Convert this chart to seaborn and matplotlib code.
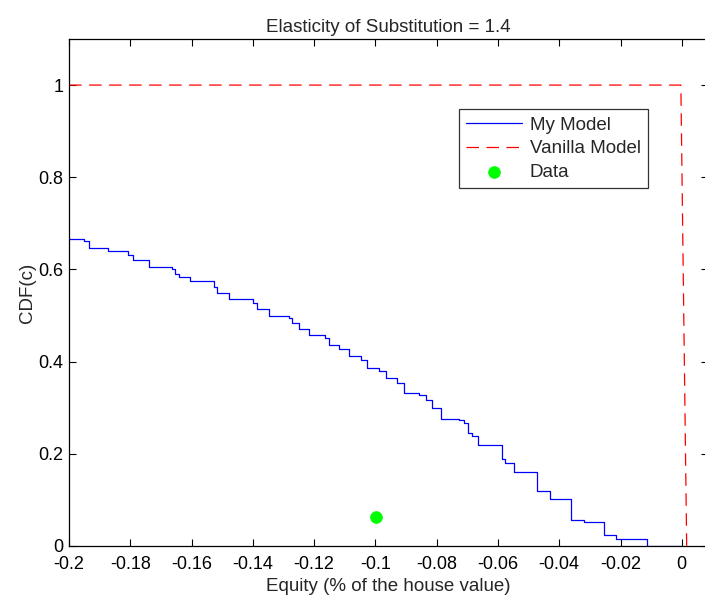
import numpy as np
import pandas as pd
import matplotlib
matplotlib.use("Agg")
import matplotlib.pyplot as plt
import seaborn as sns

# "My Model" step curve: x where each level starts, and the level
my_x = [-0.2, -0.1951, -0.1934, -0.1872, -0.1807, -0.1793, -0.1738, -0.1665,
        -0.1654, -0.1641, -0.1606, -0.1526, -0.1518, -0.1477, -0.1401, -0.1386,
        -0.1347, -0.1282, -0.1273, -0.1250, -0.1217, -0.1165, -0.1151, -0.1118,
        -0.1086, -0.1048, -0.1029, -0.0989, -0.0966, -0.0931, -0.0906, -0.0858,
        -0.0836, -0.0815, -0.0786, -0.0727, -0.0711, -0.0699, -0.0686, -0.0665,
        -0.0588, -0.0578, -0.0547, -0.0471, -0.0431, -0.0360, -0.0319, -0.0254,
        -0.0215, -0.0115, -0.0001]
my_cdf = [0.666, 0.662, 0.646, 0.640, 0.631, 0.621, 0.606, 0.601,
          0.590, 0.584, 0.574, 0.561, 0.549, 0.536, 0.527, 0.514,
          0.498, 0.495, 0.484, 0.471, 0.457, 0.452, 0.437, 0.428,
          0.412, 0.403, 0.386, 0.379, 0.364, 0.354, 0.332, 0.327,
          0.316, 0.300, 0.276, 0.273, 0.266, 0.246, 0.239, 0.220,
          0.188, 0.179, 0.161, 0.120, 0.103, 0.056, 0.051, 0.024,
          0.015, 0.0, 0.0]

# "Vanilla Model"
van_x = [-0.2, -0.0003, 0.0016, 0.0036]
van_cdf = [1.0, 1.0, 0.0, 0.0]

# Data point
data_x = [-0.0998]
data_cdf = [0.063]

sns.set_style("ticks")
plt.rcParams["font.family"] = ["Liberation Sans", "DejaVu Sans"]
plt.rcParams["xtick.direction"] = "in"
plt.rcParams["ytick.direction"] = "in"
plt.rcParams["xtick.top"] = True
plt.rcParams["ytick.right"] = True

fig = plt.figure(figsize=(7.05, 6.0), dpi=100)
ax = fig.add_axes([0.098, 0.09, 0.906, 0.845])

my_df = pd.DataFrame({"x": my_x, "cdf": my_cdf})
van_df = pd.DataFrame({"x": van_x, "cdf": van_cdf})
data_df = pd.DataFrame({"x": data_x, "cdf": data_cdf})

sns.lineplot(data=my_df, x="x", y="cdf", ax=ax, color="blue", linewidth=0.9,
             drawstyle="steps-post", estimator=None, label="My Model")
sns.lineplot(data=van_df, x="x", y="cdf", ax=ax, color="red", linewidth=0.9,
             linestyle=(0, (10, 6)), estimator=None, label="Vanilla Model")
sns.scatterplot(data=data_df, x="x", y="cdf", ax=ax, color="#00ff00", s=70,
                edgecolor="#00ff00", label="Data", zorder=5)

ax.set_xlim(-0.2, 0.0085)
ax.set_ylim(0, 1.1)
ax.set_xticks(np.arange(-0.2, 0.001, 0.02))
ax.set_xticklabels(["-0.2", "-0.18", "-0.16", "-0.14", "-0.12", "-0.1",
                    "-0.08", "-0.06", "-0.04", "-0.02", "0"])
ax.set_yticks([0, 0.2, 0.4, 0.6, 0.8, 1])
ax.set_yticklabels(["0", "0.2", "0.4", "0.6", "0.8", "1"])
ax.tick_params(labelsize=13, length=5, width=0.8, colors="black")
ax.tick_params(axis="x", pad=7)
ax.tick_params(axis="y", pad=4)
for sp in ax.spines.values():
    sp.set_linewidth(0.9)
    sp.set_color("black")

ax.set_title("Elasticity of Substitution = 1.4", fontsize=13.5, pad=5)
ax.set_xlabel("Equity (% of the house value)", fontsize=13.5, labelpad=4)
ax.set_ylabel("CDF(c)", fontsize=13.5, labelpad=2)

leg = ax.legend(loc="upper left", bbox_to_anchor=(0.61, 0.862), borderaxespad=0,
                fontsize=13.5, frameon=True, fancybox=False, edgecolor="black",
                handlelength=3.0, handletextpad=0.4, labelspacing=0.35,
                borderpad=0.4)
leg.get_frame().set_linewidth(0.9)

fig.savefig("out.png", dpi=100)
